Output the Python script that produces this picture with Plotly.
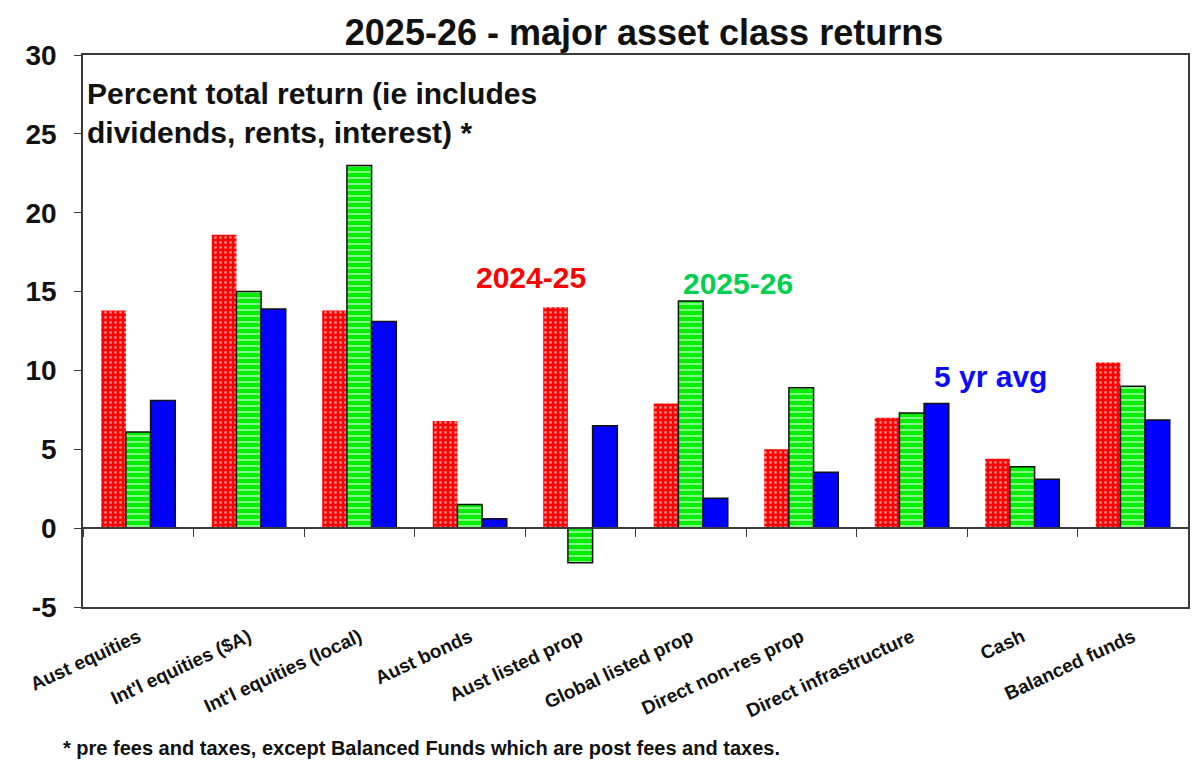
import plotly.graph_objects as go

categories = ['Aust equities', "Int'l equities ($A)", "Int'l equities (local)",
              'Aust bonds', 'Aust listed prop', 'Global listed prop',
              'Direct non-res prop', 'Direct infrastructure', 'Cash',
              'Balanced funds']
ret_2024_25 = [13.8, 18.6, 13.8, 6.8, 14.0, 7.9, 5.0, 7.0, 4.4, 10.5]
ret_2025_26 = [6.1, 15.0, 23.0, 1.5, -2.2, 14.4, 8.9, 7.3, 3.9, 9.0]
ret_5yr_avg = [8.1, 13.9, 13.1, 0.6, 6.5, 1.9, 3.55, 7.9, 3.1, 6.85]

y_ticks = [-5, 0, 5, 10, 15, 20, 25, 30]
y_tick_text = ['-5', '0', '5', '10', '15', '20', '25', '30']

FONT = 'Liberation Sans, Arial, sans-serif'
AXIS_COL = '#3a3a3a'

fig = go.Figure()

fig.add_trace(go.Bar(
    x=categories, y=ret_2024_25, name='2024-25',
    marker=dict(color='#ff0000', line=dict(width=0),
                pattern=dict(shape='.', fgcolor='white', bgcolor='#ff0000',
                             size=5, solidity=0.25))))
fig.add_trace(go.Bar(
    x=categories, y=ret_2025_26, name='2025-26',
    marker=dict(color='#00ff00', line=dict(width=1.5, color='#111'),
                pattern=dict(shape='-', fgcolor='white', bgcolor='#00ee00',
                             size=6, solidity=0.35))))
fig.add_trace(go.Bar(
    x=categories, y=ret_5yr_avg, name='5 yr avg',
    marker=dict(color='#0000ff', line=dict(width=1.5, color='#111'))))

# holder trace so the label axis knows its categories
fig.add_trace(go.Scatter(x=categories, y=[0] * len(categories), xaxis='x2',
                         mode='none', showlegend=False, hoverinfo='skip'))

# series labels
fig.add_annotation(x=3.55, y=15.9, text='<b>2024-25</b>', showarrow=False,
                   font=dict(size=30, color='#ff0000'))
fig.add_annotation(x=5.43, y=15.5, text='<b>2025-26</b>', showarrow=False,
                   font=dict(size=30, color='#00d050'))
fig.add_annotation(x=7.71, y=9.6, text='<b>5 yr avg</b>', showarrow=False,
                   font=dict(size=30, color='#0a0aff'))

fig.add_annotation(xref='paper', yref='paper', x=0.002, y=0.895,
                   xanchor='left', yanchor='middle', align='left',
                   text='<b>Percent total return (ie includes<br>'
                        'dividends, rents, interest) *</b>',
                   showarrow=False, font=dict(size=30, color='#111'))

fig.add_annotation(xref='paper', yref='paper', x=-0.02, y=-0.2554,
                   xanchor='left', yanchor='middle',
                   text='<b>* pre fees and taxes, except Balanced Funds which '
                        'are post fees and taxes.</b>',
                   showarrow=False, font=dict(size=20, color='#111'))

# the page body adds 8px, so margins are pulled in by that much
fig.update_layout(
    width=1200, height=783,
    margin=dict(l=75, r=20, t=47, b=184),
    paper_bgcolor='white', plot_bgcolor='white',
    font=dict(family=FONT, color='#111'),
    title=dict(text='<b>2025-26 - major asset class returns</b>',
               x=0.53, xanchor='center', y=0.969, yanchor='middle',
               font=dict(size=36)),
    showlegend=False,
    barmode='group', bargap=0.33, bargroupgap=0,
    xaxis=dict(type='category', categoryorder='array', categoryarray=categories,
               range=[-0.5, 9.5], anchor='free', position=5 / 35,
               showline=True, linecolor=AXIS_COL, linewidth=1.5,
               ticks='outside', tickson='boundaries', ticklen=8,
               tickcolor=AXIS_COL, showticklabels=False, showgrid=False,
               automargin=False),
    xaxis2=dict(type='category', categoryorder='array', categoryarray=categories,
                range=[-0.5, 9.5], overlaying='x', anchor='y', side='bottom',
                showline=True, mirror=True, linecolor=AXIS_COL, linewidth=1.5,
                ticks='', tickangle=-25, ticklabelstandoff=10,
                tickfont=dict(size=19, color='#111', weight='bold'),
                showgrid=False, automargin=False),
    yaxis=dict(range=[-5, 30], tickvals=y_ticks, ticktext=y_tick_text,
               showline=True, mirror=True,
               linecolor=AXIS_COL, linewidth=1.5, ticks='outside', ticklen=7,
               tickcolor=AXIS_COL, showgrid=False, zeroline=False,
               tickfont=dict(size=28, color='#111', weight='bold'),
               ticklabelstandoff=12, automargin=False),
)

fig.write_html('out.html')
